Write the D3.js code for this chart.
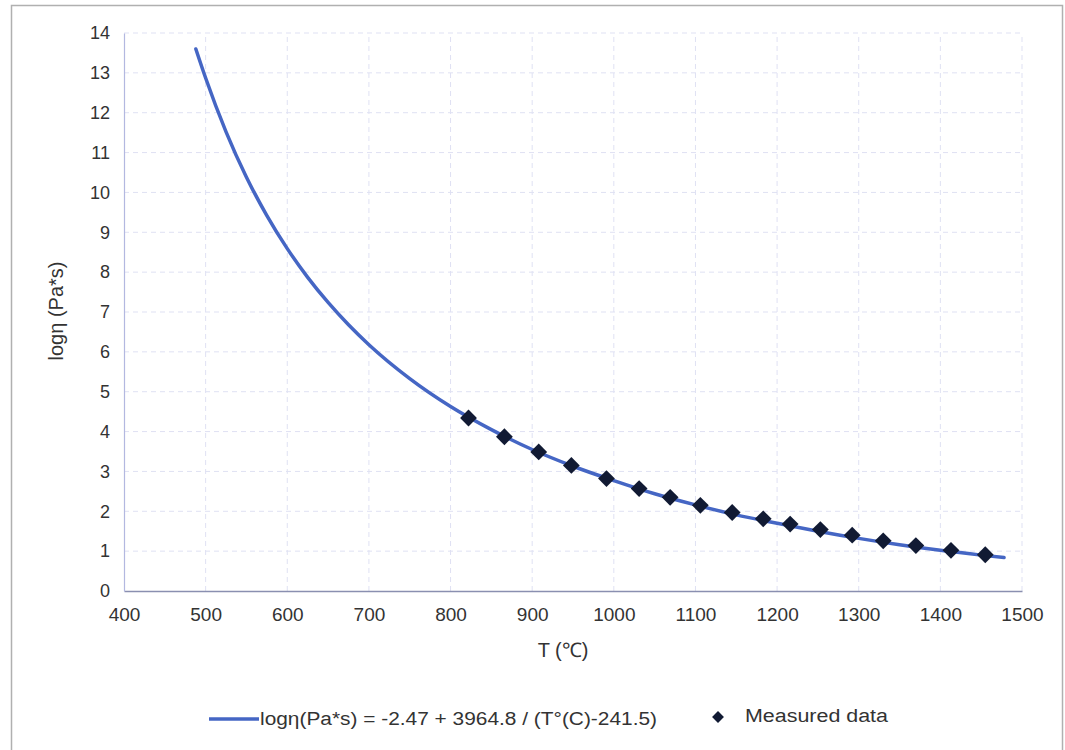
<!DOCTYPE html>
<html><head><meta charset="utf-8">
<script src="https://cdn.jsdelivr.net/npm/d3@7"></script>
<style>
html,body{margin:0;padding:0;background:#fff;}
svg{display:block;font-family:"Liberation Sans",Arial,sans-serif;}
</style></head>
<body><svg id="c" width="1065" height="750"></svg>
<script>
// Fitted curve
const curveT   = [488, 500, 525, 550, 575, 600, 625, 650, 675, 700, 750, 800, 850, 900, 950, 1000, 1050, 1100, 1150, 1200, 1250, 1300, 1350, 1400, 1450, 1478];
const curveLog = [13.6, 12.87, 11.52, 10.38, 9.42, 8.59, 7.87, 7.24, 6.68, 6.18, 5.33, 4.63, 4.05, 3.55, 3.13, 2.77, 2.44, 2.16, 1.91, 1.70, 1.50, 1.32, 1.16, 1.02, 0.90, 0.84];
// Measured data
const measT   = [822, 866, 908, 948, 991, 1031, 1069, 1106, 1145, 1183, 1216, 1253, 1292, 1330, 1370, 1413, 1455];
const measLog = [4.34, 3.87, 3.49, 3.15, 2.82, 2.57, 2.35, 2.15, 1.97, 1.81, 1.68, 1.54, 1.40, 1.26, 1.14, 1.02, 0.91];
const xTicks = [400, 500, 600, 700, 800, 900, 1000, 1100, 1200, 1300, 1400, 1500];
const yTicks = [0, 1, 2, 3, 4, 5, 6, 7, 8, 9, 10, 11, 12, 13, 14];
const legendCurve = "logη(Pa*s) = -2.47 + 3964.8 / (T°(C)-241.5)";
const legendMeas = "Measured data";
const xTitle = "T (℃)";
const yTitle = "logη (Pa*s)";

const svg = d3.select("#c");
const x = d3.scaleLinear().domain([400, 1500]).range([124, 1022]);
const y = d3.scaleLinear().domain([0, 14]).range([591, 33]);

// outer frame
svg.append("rect").attr("x", 11.5).attr("y", 5.5).attr("width", 1051).attr("height", 760)
  .attr("fill", "none").attr("stroke", "#b0b0b0").attr("stroke-width", 1.5);

// gridlines
svg.append("g").selectAll("line").data(yTicks.filter(d => d > 0)).join("line")
  .attr("x1", x(400)).attr("x2", x(1500)).attr("y1", d => y(d)).attr("y2", d => y(d))
  .attr("stroke", "#dfe1f3").attr("stroke-width", 1).attr("stroke-dasharray", "5,4");
svg.append("g").selectAll("line").data(xTicks.filter(d => d > 400)).join("line")
  .attr("x1", d => x(d)).attr("x2", d => x(d)).attr("y1", y(0)).attr("y2", y(14))
  .attr("stroke", "#dfe1f3").attr("stroke-width", 1).attr("stroke-dasharray", "5,4");

// axes
const xAxis = svg.append("g").attr("transform", `translate(0,${y(0)})`)
  .call(d3.axisBottom(x).tickValues(xTicks).tickSize(0).tickPadding(17).tickFormat(d3.format("d")));
xAxis.select(".domain").attr("stroke", "#8a8fb0").attr("stroke-width", 1.5);
xAxis.selectAll("text").attr("font-size", 19).attr("fill", "#333");

const yAxis = svg.append("g").attr("transform", `translate(${x(400)},0)`)
  .call(d3.axisLeft(y).tickValues(yTicks).tickSize(0).tickPadding(14).tickFormat(d3.format("d")));
yAxis.select(".domain").attr("stroke", "#b3b8e0").attr("stroke-width", 1.2);
yAxis.selectAll("text").attr("font-size", 18).attr("fill", "#333");

// titles
svg.append("text").attr("x", 563).attr("y", 657).attr("text-anchor", "middle")
  .attr("font-size", 20).attr("fill", "#333").text(xTitle);
svg.append("text").attr("transform", "translate(63,311) rotate(-90)").attr("text-anchor", "middle")
  .attr("font-size", 20).attr("fill", "#333").text(yTitle);

// curve
const pts = curveT.map((t, i) => [t, curveLog[i]]);
svg.append("path").datum(pts)
  .attr("d", d3.line().x(d => x(d[0])).y(d => y(d[1])).curve(d3.curveMonotoneX))
  .attr("fill", "none").attr("stroke", "#4566c4").attr("stroke-width", 3.5).attr("stroke-linecap", "round");

// markers
svg.append("g").selectAll("path").data(measT.map((t, i) => [t, measLog[i]])).join("path")
  .attr("d", d3.symbol(d3.symbolDiamond2, 180))
  .attr("transform", d => `translate(${x(d[0])},${y(d[1])})`)
  .attr("fill", "#111a33");

// legend
svg.append("line").attr("x1", 209).attr("x2", 259).attr("y1", 719).attr("y2", 719)
  .attr("stroke", "#4566c4").attr("stroke-width", 3.5);
svg.append("text").attr("x", 260).attr("y", 725).attr("font-size", 18).attr("fill", "#333")
  .attr("textLength", 397).attr("lengthAdjust", "spacingAndGlyphs").text(legendCurve);
svg.append("path").attr("d", d3.symbol(d3.symbolDiamond2, 90)).attr("transform", "translate(718,717)")
  .attr("fill", "#111a33");
svg.append("text").attr("x", 745).attr("y", 722).attr("font-size", 18).attr("fill", "#333")
  .attr("textLength", 143).attr("lengthAdjust", "spacingAndGlyphs").text(legendMeas);
</script></body></html>
